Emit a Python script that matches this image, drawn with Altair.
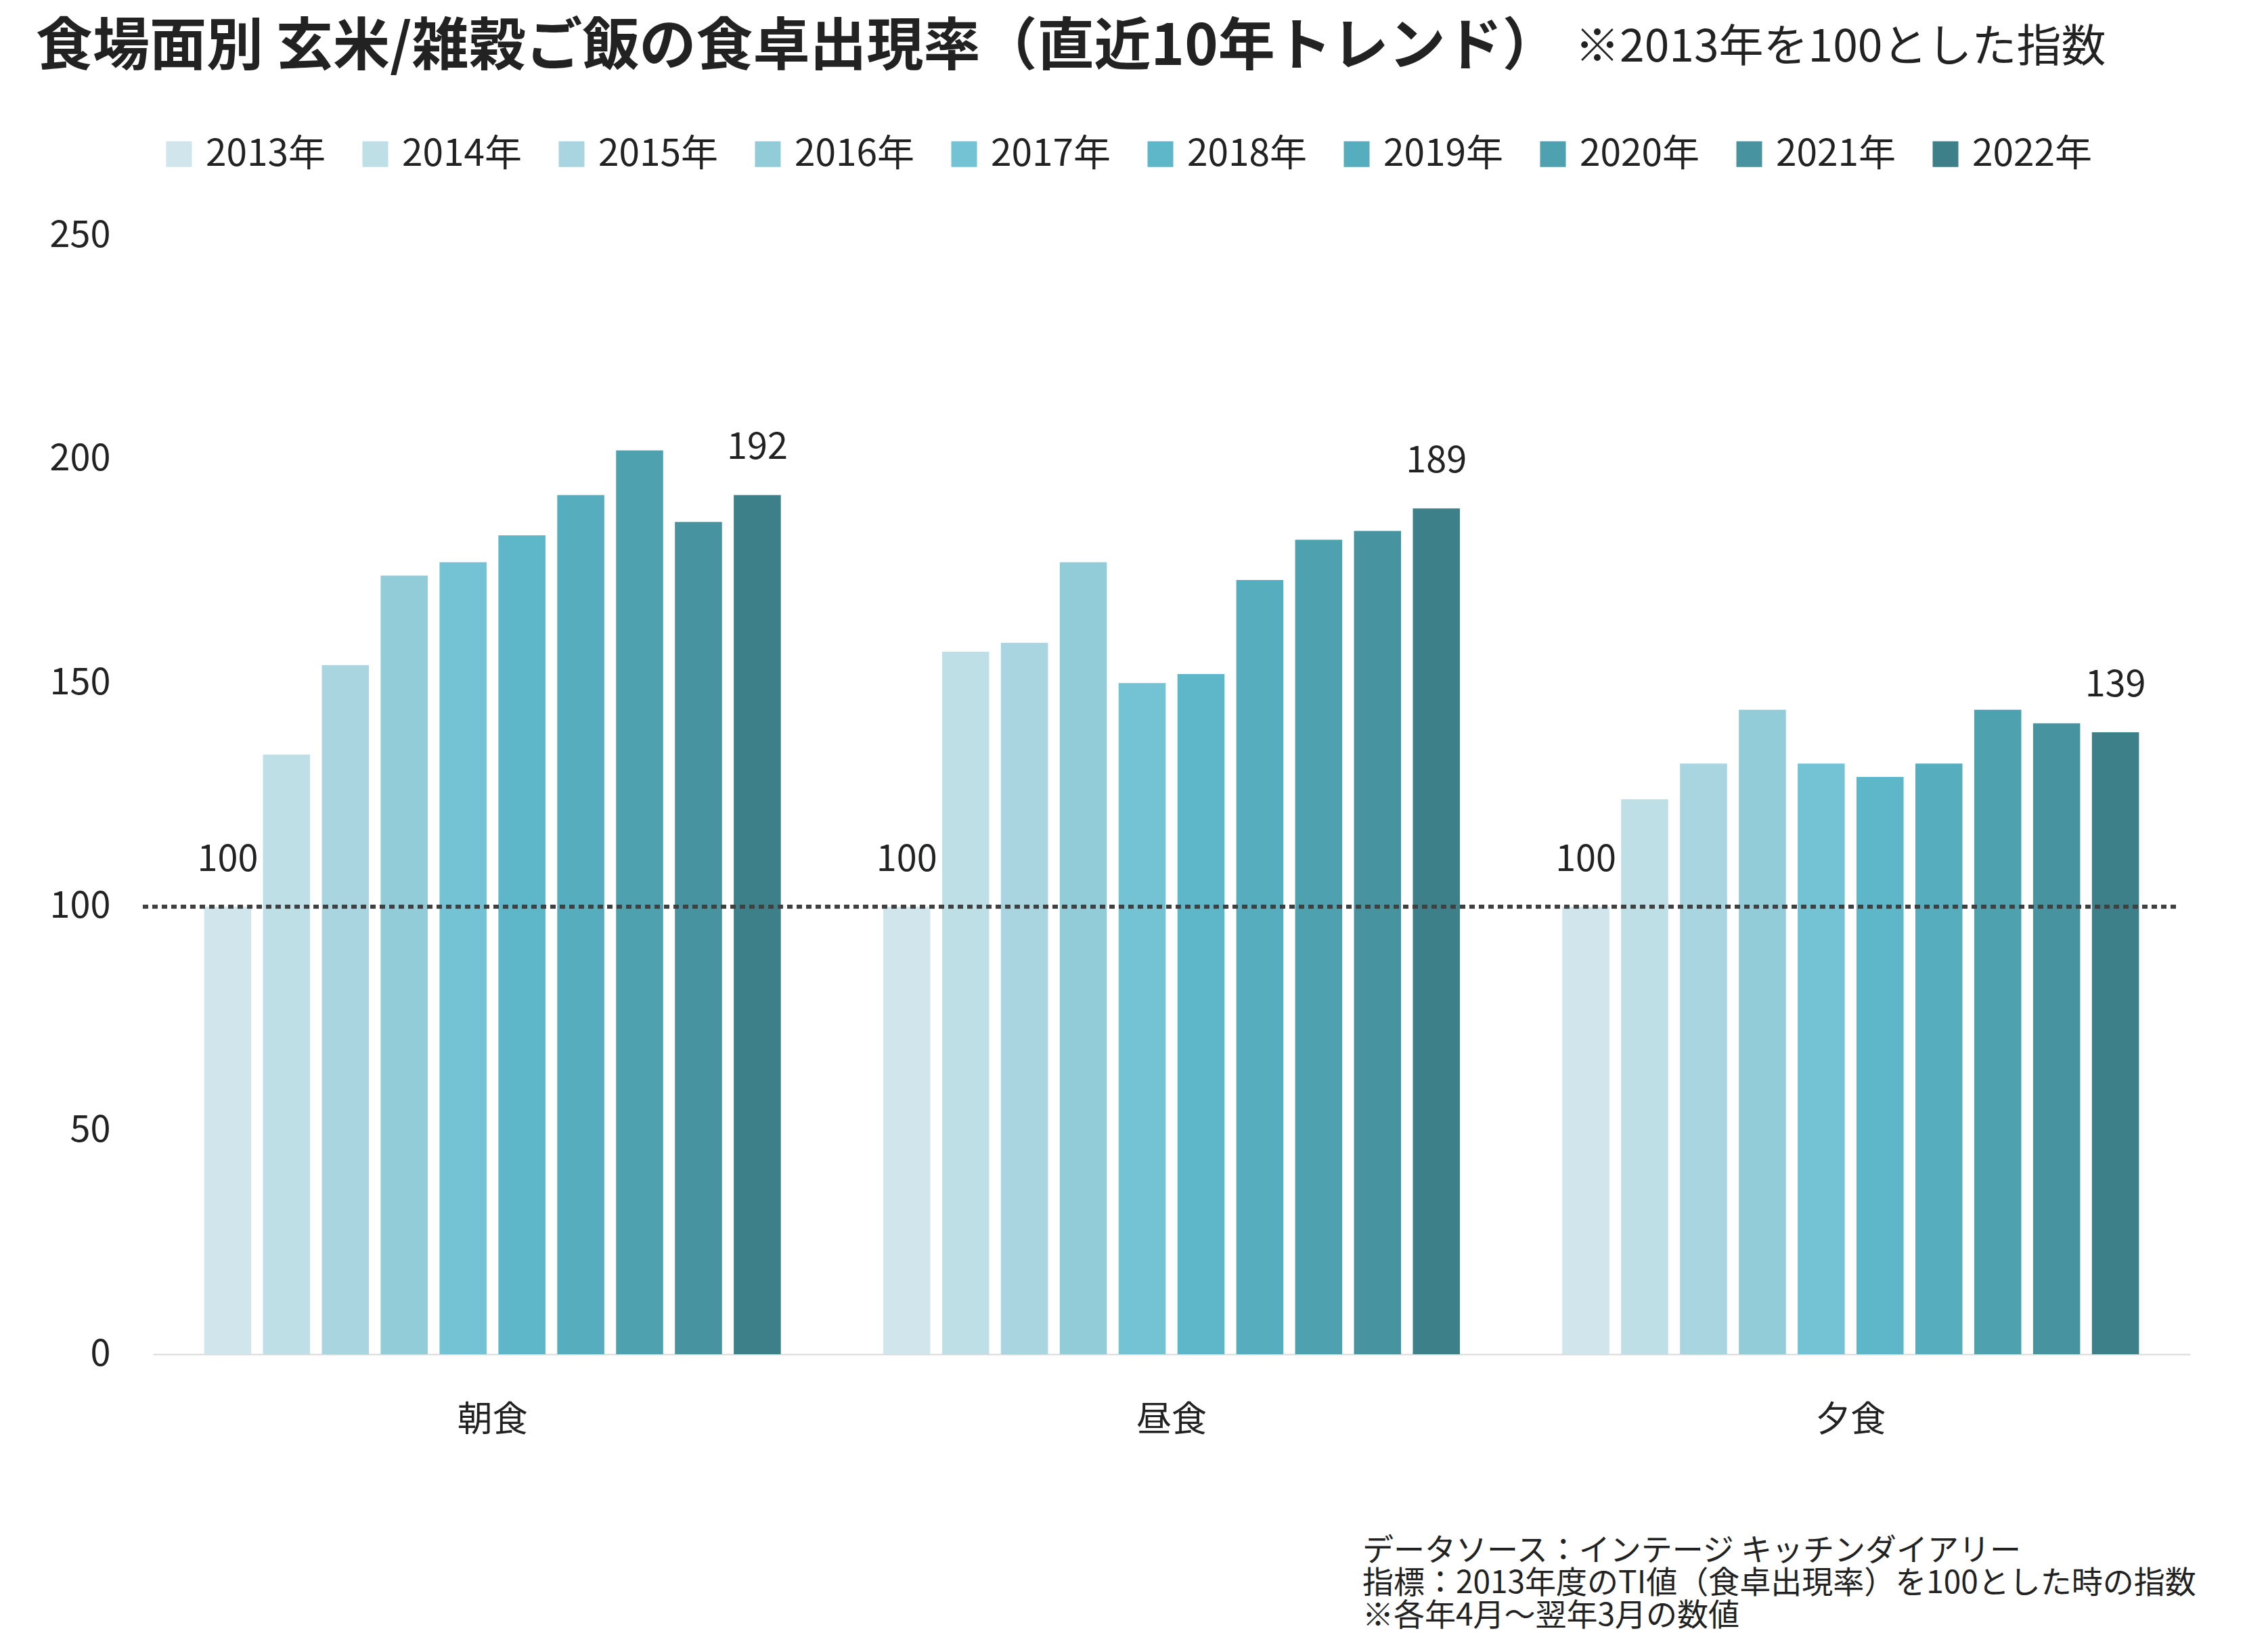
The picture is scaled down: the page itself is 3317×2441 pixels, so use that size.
import altair as alt
import pandas as pd

FONT = "Noto Sans CJK JP"

meals = ["朝食", "昼食", "夕食"]
years = ["2013年", "2014年", "2015年", "2016年", "2017年",
         "2018年", "2019年", "2020年", "2021年", "2022年"]
breakfast = [100, 134, 154, 174, 177, 183, 192, 202, 186, 192]
lunch = [100, 157, 159, 177, 150, 152, 173, 182, 184, 189]
dinner = [100, 124, 132, 144, 132, 129, 132, 144, 141, 139]
colors = ["#D1E6EC", "#BEDFE6", "#A8D5E0", "#93CCD9", "#73C3D4",
          "#5EB7C8", "#55ADBE", "#4EA1AF", "#47939F", "#3E808A"]
reference_value = [100]

title_text = ["食場面別 玄米/雑穀ご飯の食卓出現率（直近10年トレンド）"]
subtitle_text = ["※2013年を100とした指数"]
footer_lines = ["データソース：インテージ キッチンダイアリー",
                "指標：2013年度のTI値（食卓出現率）を100とした時の指数",
                "※各年4月～翌年3月の数値"]

rows = []
for meal, series in zip(meals, [breakfast, lunch, dinner]):
    for y, v in zip(years, series):
        rows.append({"meal": meal, "year": y, "value": v})
df = pd.DataFrame(rows)
df_lab = df[df["year"].isin([years[0], years[-1]])]

W, H = 3010, 1653

x_enc = alt.X("meal:N", sort=meals,
              scale=alt.Scale(domain=meals, paddingInner=0, paddingOuter=0),
              axis=alt.Axis(title=None, labelAngle=0, ticks=False, domain=True,
                            domainColor="#d9d9d9", domainWidth=2,
                            labelFontSize=52, labelPadding=72, labelColor="#222222",
                            labelFont=FONT))
xo_enc = alt.XOffset("year:N", sort=years,
                     scale=alt.Scale(domain=years, paddingInner=0.2, paddingOuter=0.87))
y_scale = alt.Scale(domain=[0, 250])

bars = alt.Chart(df).mark_bar().encode(
    x=x_enc,
    xOffset=xo_enc,
    y=alt.Y("value:Q", scale=y_scale,
            axis=alt.Axis(values=[0, 50, 100, 150, 200, 250], title=None, grid=False,
                          ticks=False, domain=False, labelFontSize=54, labelPadding=63,
                          labelColor="#222222", labelFont=FONT)),
    color=alt.Color("year:N", sort=years,
                    scale=alt.Scale(domain=years, range=colors),
                    legend=alt.Legend(title=None, orient="none", legendX=11, legendY=-148,
                                      direction="horizontal", columns=10,
                                      symbolType="square", symbolSize=1444,
                                      symbolStrokeWidth=0, symbolOpacity=1,
                                      labelFontSize=55, labelFont=FONT,
                                      labelColor="#222222", labelOffset=12,
                                      columnPadding=45, labelLimit=400)),
)

rule = alt.Chart(pd.DataFrame({"ref": reference_value})).mark_rule(
    color="#404040", strokeDash=[8, 6], strokeWidth=6
).encode(
    y=alt.Y("ref:Q", scale=y_scale),
    x=alt.value(-15), x2=alt.value(2989),
)

labels = alt.Chart(df_lab).mark_text(
    font=FONT, fontSize=54, color="#222222", baseline="alphabetic", dy=-53
).encode(
    x=alt.X("meal:N", sort=meals), xOffset=xo_enc,
    y=alt.Y("value:Q", scale=y_scale), text="value:Q",
)

title = alt.Chart(pd.DataFrame({"t": title_text})).mark_text(
    font=FONT, fontSize=84, fontWeight="bold", align="left", baseline="middle",
    color="#222222"
).encode(text="t:N", x=alt.value(-173), y=alt.value(-277))

subtitle = alt.Chart(pd.DataFrame({"t": subtitle_text})).mark_text(
    font=FONT, fontSize=66, align="left", baseline="middle", color="#222222"
).encode(text="t:N", x=alt.value(2101), y=alt.value(-277))

footer = alt.Chart(pd.DataFrame({"t": ["footer"]})).mark_text(
    font=FONT, fontSize=46, align="left", baseline="top", color="#222222",
    lineHeight=48
).encode(text=alt.value(footer_lines), x=alt.value(1787), y=alt.value(1922))

chart = alt.layer(bars, rule, labels, title, subtitle, footer).properties(
    width=W, height=H,
    autosize=alt.AutoSizeParams(type="none"),
    padding={"left": 226, "top": 348, "right": 81, "bottom": 440},
    background="white",
).configure_view(stroke=None)

chart.save("out.html", embed_options={"renderer": "svg", "actions": False})
